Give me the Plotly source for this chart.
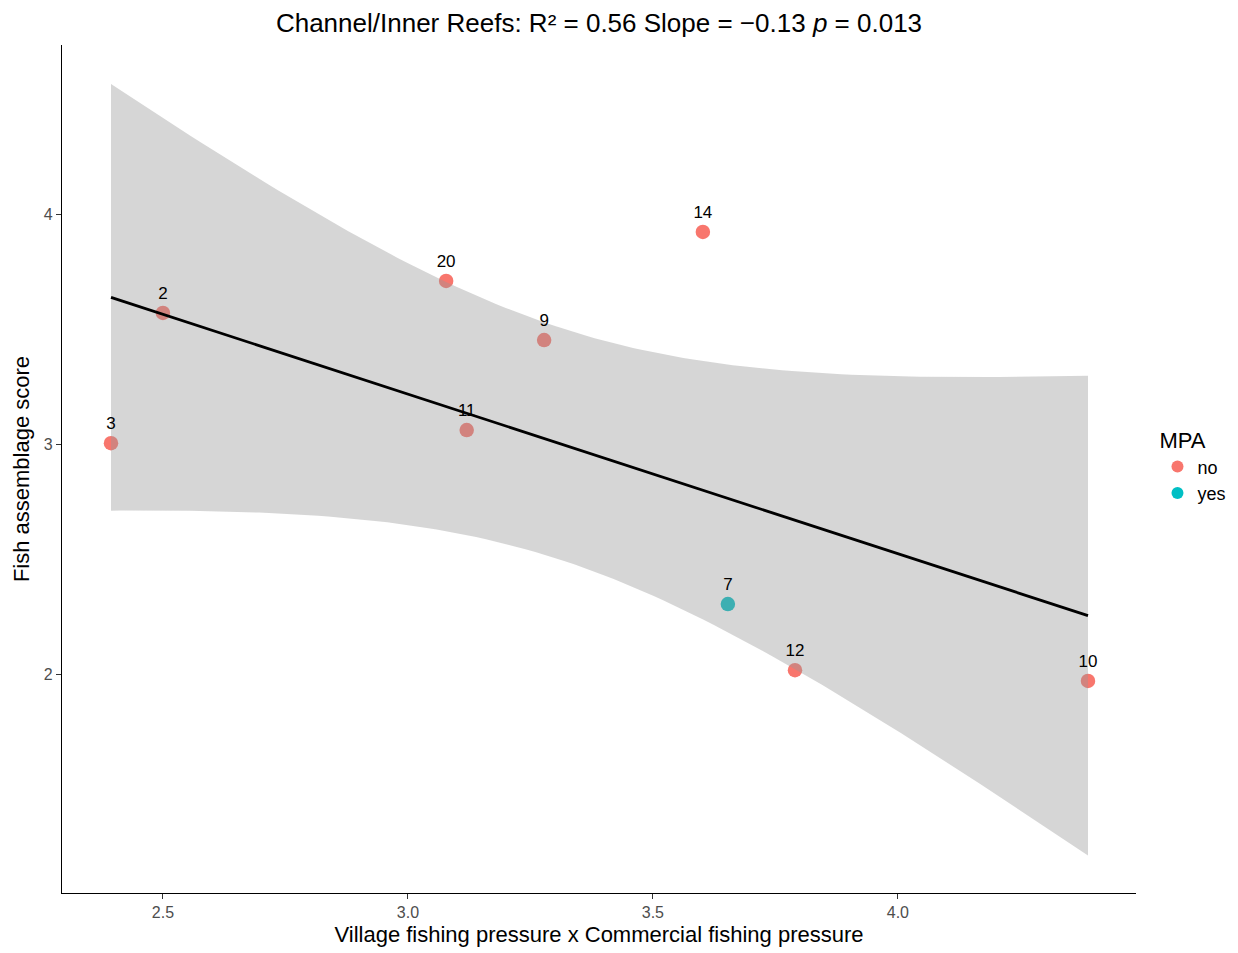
import numpy as np
import plotly.graph_objects as go

site = ["3", "2", "20", "11", "9", "14", "7", "12", "10"]
pressure = [2.394, 2.500, 3.078, 3.120, 3.278, 3.602, 3.653, 3.790, 4.388]
score = [3.004, 3.570, 3.709, 3.061, 3.452, 3.922, 2.304, 2.017, 1.970]
mpa = ["no", "no", "no", "no", "no", "no", "yes", "no", "no"]
colors = {"no": "#F8766D", "yes": "#00BFC4"}

x = np.array(pressure)
y = np.array(score)
n = len(x)
b1, b0 = np.polyfit(x, y, 1)
resid = y - (b0 + b1 * x)
s = np.sqrt(np.sum(resid ** 2) / (n - 2))
tcrit = 2.3646  # t(0.975, df=7)
xs = np.linspace(x.min(), x.max(), 100)
fit = b0 + b1 * xs
se = s * np.sqrt(1 / n + (xs - x.mean()) ** 2 / np.sum((x - x.mean()) ** 2))
lo = fit - tcrit * se
hi = fit + tcrit * se

FONT = "Liberation Sans, Arial, sans-serif"

fig = go.Figure()
for g in ["no", "yes"]:
    idx = [i for i, m in enumerate(mpa) if m == g]
    fig.add_trace(go.Scatter(
        x=[pressure[i] for i in idx], y=[score[i] for i in idx],
        mode="markers", name=g,
        marker=dict(color=colors[g], size=14.5, line=dict(width=0)),
    ))

fig.add_trace(go.Scatter(x=np.concatenate([xs, xs[::-1]]), y=np.concatenate([hi, lo[::-1]]),
                         fill="toself", fillcolor="rgba(153,153,153,0.4)",
                         line=dict(width=0), mode="lines", showlegend=False, hoverinfo="skip"))

fig.add_trace(go.Scatter(x=pressure, y=score, mode="markers+text", text=site,
                         marker=dict(size=14, opacity=0),
                         textposition="top center", textfont=dict(size=17, color="black", family=FONT),
                         showlegend=False, hoverinfo="skip"))

fig.add_trace(go.Scatter(x=xs, y=fit, mode="lines", line=dict(color="black", width=2.8),
                         showlegend=False))

fig.update_layout(
    width=1238, height=953,
    plot_bgcolor="white", paper_bgcolor="white",
    margin=dict(l=54, r=110, t=37, b=68),
    font=dict(family=FONT, color="black"),
    title=dict(text="Channel/Inner Reefs: R\u00b2 = 0.56 Slope = \u22120.13 <i>p</i> = 0.013",
               x=0.5, xref="paper", y=1 - 15 / 953, yref="container", xanchor="center", yanchor="middle",
               font=dict(size=26, color="black")),
    legend=dict(title=dict(text="MPA", font=dict(size=22)), font=dict(size=18),
                x=1.02, y=0.558, xanchor="left", yanchor="top", itemsizing="constant",
                tracegroupgap=2),
    showlegend=True,
)
fig.update_xaxes(range=[2.294, 4.486], tickvals=[2.5, 3.0, 3.5, 4.0], ticktext=["2.5", "3.0", "3.5", "4.0"],
                 showgrid=False, zeroline=False, showline=True, linecolor="black", linewidth=1.3,
                 ticks="outside", ticklen=5, tickcolor="#333333", tickfont=dict(size=16, color="#4d4d4d"),
                 title=dict(text="Village fishing pressure x Commercial fishing pressure", font=dict(size=22), standoff=6))
fig.update_yaxes(range=[1.048, 4.735], tickvals=[2, 3, 4],
                 showgrid=False, zeroline=False, showline=True, linecolor="black", linewidth=1.3,
                 ticks="outside", ticklen=5, tickcolor="#333333", tickfont=dict(size=16, color="#4d4d4d"),
                 title=dict(text="Fish assemblage score", font=dict(size=22), standoff=8))

fig.write_html("out.html", config={"displayModeBar": False})
